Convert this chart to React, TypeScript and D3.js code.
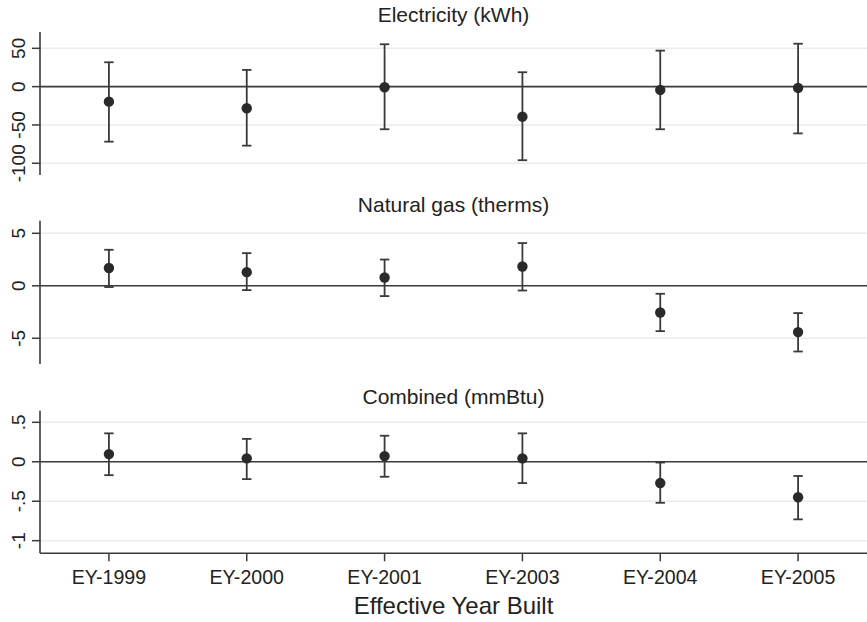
import * as d3 from 'd3';

const categories = ['EY-1999', 'EY-2000', 'EY-2001', 'EY-2003', 'EY-2004', 'EY-2005'];

const elecEst = [-19.6, -28.2, -0.8, -39.2, -4.3, -1.7];
const elecLo = [-71.8, -77, -55.6, -96, -55.6, -61];
const elecHi = [31.8, 21.8, 55.3, 18.8, 47, 56];

const gasEst = [1.69, 1.3, 0.79, 1.84, -2.54, -4.41];
const gasLo = [-0.12, -0.41, -0.98, -0.45, -4.32, -6.26];
const gasHi = [3.43, 3.11, 2.5, 4.07, -0.76, -2.6];

const combEst = [0.097, 0.043, 0.072, 0.043, -0.27, -0.45];
const combLo = [-0.17, -0.22, -0.19, -0.27, -0.52, -0.73];
const combHi = [0.36, 0.29, 0.33, 0.36, -0.01, -0.18];

const elecTicks = [50, 0, -50, -100];
const elecTickLabels = ['50', '0', '-50', '-100'];
const gasTicks = [5, 0, -5];
const gasTickLabels = ['5', '0', '-5'];
const combTicks = [0.5, 0, -0.5, -1];
const combTickLabels = ['.5', '0', '-.5', '-1'];

const W = 867;
const H = 622;
const left = 40;
const font = "'Liberation Sans', Arial, sans-serif";
const dark = '#3a3a3a';
const grid = '#ebebeb';

const x = d3.scalePoint<string>().domain(categories).range([left, W]).padding(0.5);

interface PanelProps {
  title: string;
  titleY: number;
  top: number;
  bottom: number;
  domain: [number, number];
  ticks: number[];
  tickLabels: string[];
  est: number[];
  lo: number[];
  hi: number[];
  xAxis?: boolean;
}

function Panel({ title, titleY, top, bottom, domain, ticks, tickLabels, est, lo, hi, xAxis }: PanelProps) {
  const y = d3.scaleLinear().domain(domain).range([bottom, top]);
  const cap = 4.7;
  return (
    <g>
      <text x={(left + W) / 2} y={titleY} textAnchor="middle" fontSize={21} fill="#222">
        {title}
      </text>
      {ticks.filter((t) => t !== 0).map((t) => (
        <line key={'g' + t} x1={left} x2={W} y1={y(t)} y2={y(t)} stroke={grid} strokeWidth={1.5} />
      ))}
      <line x1={left} x2={W} y1={y(0)} y2={y(0)} stroke={dark} strokeWidth={1.6} />
      <line x1={left} x2={left} y1={top} y2={bottom} stroke={dark} strokeWidth={1.6} />
      {ticks.map((t, i) => (
        <g key={'t' + t}>
          <line x1={left - 8} x2={left} y1={y(t)} y2={y(t)} stroke={dark} strokeWidth={1.5} />
          <text
            transform={`translate(${left - 15},${y(t)}) rotate(-90)`}
            textAnchor="middle"
            fontSize={19}
            fill="#222"
          >
            {tickLabels[i]}
          </text>
        </g>
      ))}
      {xAxis && (
        <g>
          <line x1={left} x2={W} y1={bottom} y2={bottom} stroke={dark} strokeWidth={1.6} />
          {categories.map((c) => (
            <g key={c}>
              <line x1={x(c)} x2={x(c)} y1={bottom} y2={bottom + 8} stroke={dark} strokeWidth={1.5} />
              <text x={x(c)} y={bottom + 31} textAnchor="middle" fontSize={19.6} fill="#222">
                {c}
              </text>
            </g>
          ))}
        </g>
      )}
      {categories.map((c, i) => {
        const cx = x(c) ?? 0;
        return (
          <g key={'p' + c}>
            <line x1={cx} x2={cx} y1={y(lo[i])} y2={y(hi[i])} stroke={dark} strokeWidth={1.8} />
            <line x1={cx - cap} x2={cx + cap} y1={y(lo[i])} y2={y(lo[i])} stroke={dark} strokeWidth={1.8} />
            <line x1={cx - cap} x2={cx + cap} y1={y(hi[i])} y2={y(hi[i])} stroke={dark} strokeWidth={1.8} />
            <circle cx={cx} cy={y(est[i])} r={5.2} fill="#2a2a2a" />
          </g>
        );
      })}
    </g>
  );
}

export default function App() {
  return (
    <svg
      width={W}
      height={H}
      style={{ position: 'absolute', left: 0, top: 0, background: '#fff', fontFamily: font }}
    >
      <rect width={W} height={H} fill="#fff" />
      <Panel
        title="Electricity (kWh)"
        titleY={22}
        top={32}
        bottom={175}
        domain={[-115.3, 71.3]}
        ticks={elecTicks}
        tickLabels={elecTickLabels}
        est={elecEst}
        lo={elecLo}
        hi={elecHi}
      />
      <Panel
        title="Natural gas (therms)"
        titleY={212}
        top={220.7}
        bottom={364}
        domain={[-7.45, 6.2]}
        ticks={gasTicks}
        tickLabels={gasTickLabels}
        est={gasEst}
        lo={gasLo}
        hi={gasHi}
      />
      <Panel
        title="Combined (mmBtu)"
        titleY={404}
        top={410.7}
        bottom={553.3}
        domain={[-1.16, 0.647]}
        ticks={combTicks}
        tickLabels={combTickLabels}
        est={combEst}
        lo={combLo}
        hi={combHi}
        xAxis
      />
      <text x={(left + W) / 2} y={614} textAnchor="middle" fontSize={24} fill="#222">
        Effective Year Built
      </text>
    </svg>
  );
}
